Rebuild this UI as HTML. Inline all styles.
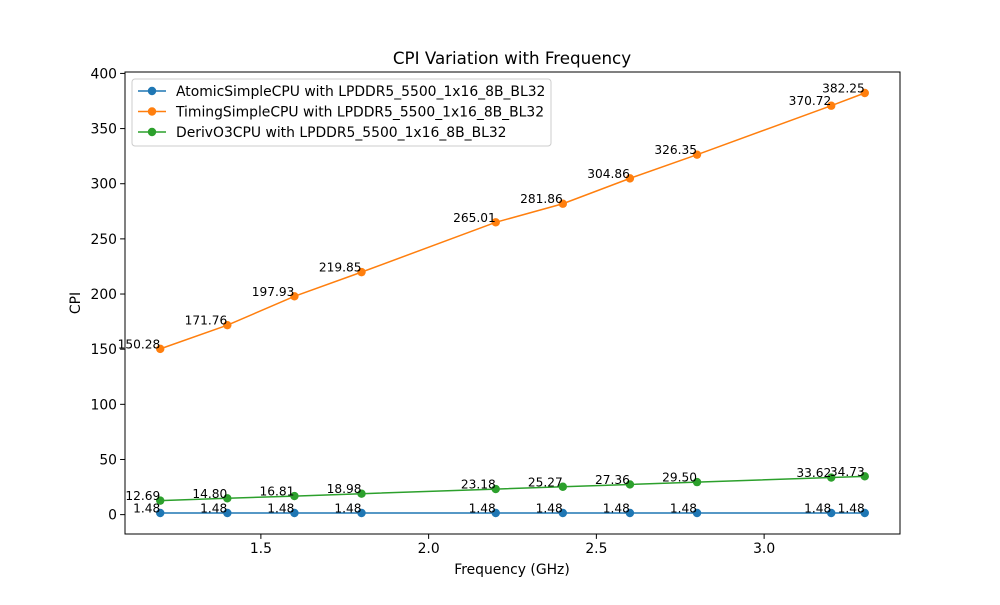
<!DOCTYPE html>
<html><head><meta charset="utf-8"><style>
body{margin:0;background:#fff;font-family:"Liberation Sans","DejaVu Sans",sans-serif}
</style></head><body>
<svg id="chart" width="1000" height="600" xmlns="http://www.w3.org/2000/svg" font-family="DejaVu Sans, Liberation Sans, sans-serif">
<rect width="1000" height="600" fill="#fff"/>
<text x="512" y="64" text-anchor="middle" font-size="16.7">CPI Variation with Frequency</text>
<g id="grid"></g>
<g id="series"></g>
<rect x="125" y="72" width="775" height="462" fill="none" stroke="#000" stroke-width="1"/>
<text x="512" y="574" text-anchor="middle" font-size="13.9">Frequency (GHz)</text>
<text transform="translate(80,303) rotate(-90)" text-anchor="middle" font-size="13.9">CPI</text>
<g id="legend"></g>
</svg>
<script>
const freqs=[1.2,1.4,1.6,1.8,2.2,2.4,2.6,2.8,3.2,3.3];
const atomic=[1.48,1.48,1.48,1.48,1.48,1.48,1.48,1.48,1.48,1.48];
const timing=[150.28,171.76,197.93,219.85,265.01,281.86,304.86,326.35,370.72,382.25];
const deriv=[12.69,14.80,16.81,18.98,23.18,25.27,27.36,29.50,33.62,34.73];
const seriesNames=["AtomicSimpleCPU with LPDDR5_5500_1x16_8B_BL32","TimingSimpleCPU with LPDDR5_5500_1x16_8B_BL32","DerivO3CPU with LPDDR5_5500_1x16_8B_BL32"];
const xTicks=[1.5,2.0,2.5,3.0];
const yTicks=[0,50,100,150,200,250,300,350,400];
const colors=["#1f77b4","#ff7f0e","#2ca02c"];
const NS="http://www.w3.org/2000/svg";
const L=125,R=900,T=72,B=534;
const allY=atomic.concat(timing,deriv);
const xmin0=Math.min(...freqs),xmax0=Math.max(...freqs);
const ymin0=Math.min(...allY),ymax0=Math.max(...allY);
const xmin=xmin0-0.05*(xmax0-xmin0),xmax=xmax0+0.05*(xmax0-xmin0);
const ymin=ymin0-0.05*(ymax0-ymin0),ymax=ymax0+0.05*(ymax0-ymin0);
const sx=v=>L+(v-xmin)/(xmax-xmin)*(R-L);
const sy=v=>B-(v-ymin)/(ymax-ymin)*(B-T);
function mk(tag,attrs,parent,txt){const e=document.createElementNS(NS,tag);for(const k in attrs)e.setAttribute(k,attrs[k]);if(txt!==undefined)e.textContent=txt;parent.appendChild(e);return e;}
const g=document.getElementById('grid');
xTicks.forEach(t=>{const x=sx(t);
 const l=mk('line',{x1:x,x2:x,y1:B,y2:B+4.9,stroke:'#000'},g);
 
 
 const tx=mk('text',{x:x,y:B+19,'text-anchor':'middle','font-size':13.9},g,t.toFixed(1));
 
 });
yTicks.forEach(t=>{const y=sy(t);
 const l=mk('line',{x1:L-4.9,x2:L,y1:y,y2:y,stroke:'#000'},g);
 
 
 const tx=mk('text',{x:L-8,y:y+5,'text-anchor':'end','font-size':13.9},g,String(t));
 
 });
const sg=document.getElementById('series');
[atomic,timing,deriv].forEach((data,i)=>{
 const pts=freqs.map((f,j)=>sx(f)+','+sy(data[j])).join(' ');
 const pl=mk('polyline',{points:pts,fill:'none',stroke:colors[i],'stroke-width':1.5},sg);
 
 
 freqs.forEach((f,j)=>{
  const c=mk('circle',{cx:sx(f),cy:sy(data[j]),r:4.2,fill:colors[i]},sg);
  
  
 });
});
[atomic,timing,deriv].forEach((data,i)=>{
 freqs.forEach((f,j)=>{
  const t=mk('text',{x:sx(f),y:sy(data[j])-0.5,'text-anchor':'end','font-size':12.2},sg,data[j].toFixed(2));
  
  
 });
});
const lg=document.getElementById('legend');
const fr=mk('rect',{x:132,y:79,width:419,height:67,rx:3,fill:'#fff','fill-opacity':0.8,stroke:'#ccc'},lg);


seriesNames.forEach((n,i)=>{const y=91+i*20.5;
 const ln=mk('line',{x1:138,x2:166,y1:y,y2:y,stroke:colors[i],'stroke-width':1.5},lg);
 
 
 const c=mk('circle',{cx:152,cy:y,r:4.2,fill:colors[i]},lg);
 
 
 const t=mk('text',{x:176,y:y+5,'font-size':13.9},lg,n);
 
 });
</script>
</body></html>
